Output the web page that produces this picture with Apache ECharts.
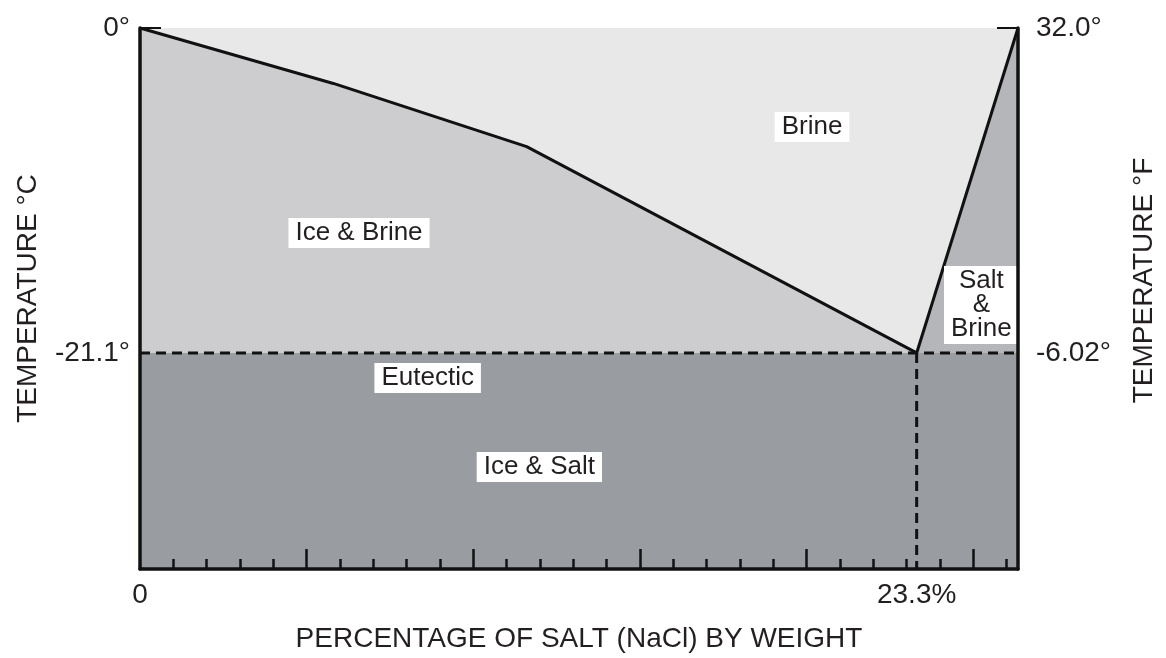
<!DOCTYPE html>
<html>
<head>
<meta charset="utf-8">
<script src="https://cdn.jsdelivr.net/npm/echarts@6/dist/echarts.min.js"></script>
<style>
  html, body { margin: 0; padding: 0; background: #fff; }
  #chart { width: 1166px; height: 658px; }
</style>
</head>
<body>
<div id="chart"></div>
<script>
// salt % by weight and temperature (deg C) along the freezing line
var liquidusPct = [0, 5.8, 11.6, 23.3];
var liquidusTemp = [0, -3.6, -7.7, -21.1];
// salt saturation line, eutectic up to the top right corner
var saturationPct = [23.3, 26.34];
var saturationTemp = [-21.1, 0];
var eutecticPct = 23.3;
var eutecticTemp = -21.1;
var pctMax = 26.34;
var tempMin = -35.13;

var majorTicks = [5, 10, 15, 20, 25];
var minorTicks = [1, 2, 3, 4, 6, 7, 8, 9, 11, 12, 13, 14, 16, 17, 18, 19, 21, 22, 23, 24, 26];
var pctLabels = [0, 23.3];
var celsiusLabels = [0, -21.1];
var fahrenheitLabels = [32, -6.02];
var fahrenheitText = ['32.0', '-6.02'];

// region names with the point they sit on (pct, deg C)
var regionNotes = [
    [20.16, -6.43, 'Brine'],
    [6.57, -13.31, 'Ice & Brine'],
    [8.63, -22.73, 'Eutectic'],
    [11.98, -28.51, 'Ice & Salt'],
    [25.24, -17.99, 'Salt\n&\nBrine']
];

var FONT = '"Liberation Sans", Arial, sans-serif';
var INK = '#231f20';

function toF(c) { return c * 9 / 5 + 32; }

function zip(xs, ys) {
    return xs.map(function (x, i) { return [x, ys[i]]; });
}

// polygons for the phase areas
var iceBrine = zip(liquidusPct, liquidusTemp).concat([[0, eutecticTemp]]);
var saltBrine = zip(saturationPct, saturationTemp).concat([[pctMax, eutecticTemp]]);
var iceSalt = [[0, eutecticTemp], [pctMax, eutecticTemp], [pctMax, tempMin], [0, tempMin]];

function polygonSeries(points, color) {
    return {
        type: 'custom',
        z: 1,
        silent: true,
        data: [0],
        renderItem: function (params, api) {
            return {
                type: 'polygon',
                shape: { points: points.map(function (p) { return api.coord(p); }) },
                style: { fill: color }
            };
        }
    };
}

function lineSeries(data, dashed) {
    return {
        type: 'line',
        z: 3,
        silent: true,
        symbol: 'none',
        data: data,
        lineStyle: {
            color: '#111',
            width: 3,
            type: dashed ? [10, 6] : 'solid'
        }
    };
}

var myChart = echarts.init(document.getElementById('chart'));

var option = {
    animation: false,
    backgroundColor: '#fff',
    grid: {
        left: 140,
        right: 144,
        top: 28,
        bottom: 89,
        show: true,
        backgroundColor: '#e8e8e8',
        borderWidth: 0
    },
    xAxis: [{
        type: 'value',
        min: 0,
        max: pctMax,
        z: 10,
        position: 'bottom',
        name: 'PERCENTAGE OF SALT (NaCl) BY WEIGHT',
        nameLocation: 'middle',
        nameGap: 56,
        nameTextStyle: { fontFamily: FONT, fontSize: 28, color: INK },
        axisLine: { onZero: false, lineStyle: { color: '#111', width: 3.5 } },
        axisTick: { customValues: majorTicks, inside: true, length: 20, lineStyle: { color: '#111', width: 2.5 } },
        minorTick: { show: false },
        axisLabel: {
            customValues: pctLabels,
            margin: 12,
            fontFamily: FONT, fontSize: 28, color: INK,
            formatter: function (v) { return v === 0 ? '0' : v + '%'; }
        },
        splitLine: { show: false }
    }, {
        type: 'value',
        min: 0,
        max: pctMax,
        z: 10,
        position: 'bottom',
        axisLine: { show: false, onZero: false },
        axisTick: { customValues: minorTicks, inside: true, length: 10, lineStyle: { color: '#111', width: 2.5 } },
        axisLabel: { show: false },
        splitLine: { show: false }
    }],
    yAxis: [{
        type: 'value',
        min: tempMin,
        max: 0,
        z: 10,
        position: 'left',
        name: 'TEMPERATURE °C',
        nameLocation: 'middle',
        nameRotate: 90,
        nameGap: 98,
        nameTextStyle: { fontFamily: FONT, fontSize: 28, color: INK },
        axisLine: { show: true, onZero: false, lineStyle: { color: '#111', width: 3.5 } },
        axisTick: { customValues: [0], inside: true, length: 21, lineStyle: { color: '#111', width: 2 } },
        axisLabel: {
            customValues: celsiusLabels,
            margin: 10,
            fontFamily: FONT, fontSize: 28, color: INK,
            formatter: function (v) { return v + '°'; }
        },
        splitLine: { show: false }
    }, {
        type: 'value',
        min: toF(tempMin),
        max: 32,
        z: 10,
        position: 'right',
        name: 'TEMPERATURE °F',
        nameLocation: 'middle',
        nameRotate: 90,
        nameGap: 112,
        nameTextStyle: { fontFamily: FONT, fontSize: 28, color: INK, padding: [0, 0, 0, 36] },
        axisLine: { show: true, onZero: false, lineStyle: { color: '#111', width: 3.5 } },
        axisTick: { customValues: [32], inside: true, length: 21, lineStyle: { color: '#111', width: 2 } },
        axisLabel: {
            customValues: fahrenheitLabels,
            margin: 18,
            fontFamily: FONT, fontSize: 28, color: INK,
            formatter: function (v) {
                var i = fahrenheitLabels.indexOf(v);
                return (i >= 0 ? fahrenheitText[i] : v) + '°';
            }
        },
        splitLine: { show: false }
    }],
    series: [
        polygonSeries(iceBrine, '#cdcdcf'),
        polygonSeries(saltBrine, '#b5b6b9'),
        polygonSeries(iceSalt, '#999ca0'),
        lineSeries(zip(liquidusPct, liquidusTemp), false),
        lineSeries(zip(saturationPct, saturationTemp), false),
        lineSeries([[0, eutecticTemp], [pctMax, eutecticTemp]], true),
        lineSeries([[eutecticPct, eutecticTemp], [eutecticPct, tempMin]], true),
        {
            type: 'custom',
            z: 5,
            silent: true,
            data: regionNotes,
            renderItem: function (params, api) {
                var p = api.coord([api.value(0), api.value(1)]);
                return {
                    type: 'text',
                    x: p[0],
                    y: p[1],
                    style: {
                        text: regionNotes[params.dataIndex][2],
                        font: '26px ' + FONT,
                        fill: INK,
                        align: 'center',
                        verticalAlign: 'middle',
                        lineHeight: 24,
                        backgroundColor: '#fff',
                        padding: [3, 7]
                    }
                };
            }
        }
    ]
};

myChart.setOption(option);
</script>
</body>
</html>
